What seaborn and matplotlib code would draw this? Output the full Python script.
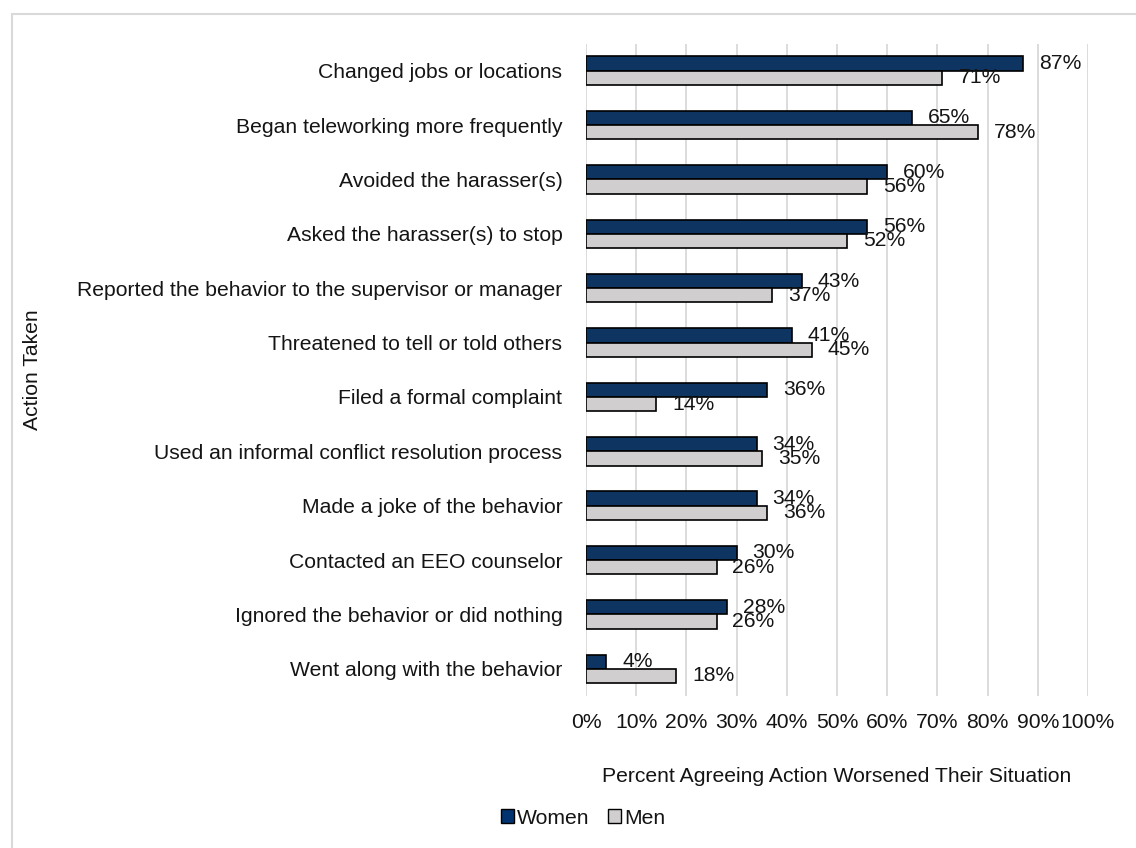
import matplotlib
matplotlib.use("Agg")
import matplotlib.pyplot as plt
from matplotlib.patches import Patch, Rectangle
import seaborn as sns
import pandas as pd

# Actions taken and share of respondents who said the action made things worse
actions = [
    "Changed jobs or locations",
    "Began teleworking more frequently",
    "Avoided the harasser(s)",
    "Asked the harasser(s) to stop",
    "Reported the behavior to the supervisor or manager",
    "Threatened to tell or told others",
    "Filed a formal complaint",
    "Used an informal conflict resolution process",
    "Made a joke of the behavior",
    "Contacted an EEO counselor",
    "Ignored the behavior or did nothing",
    "Went along with the behavior",
]
women = [87, 65, 60, 56, 43, 41, 36, 34, 34, 30, 28, 4]
men = [71, 78, 56, 52, 37, 45, 14, 35, 36, 26, 26, 18]
groups = ["Women", "Men"]
x_ticks = list(range(0, 101, 10))

NAVY = "#00336F"
GREY = "#D0CECE"
GRID = "#D9D9D9"
TEXT = "#141414"
FS = 15.2

df = pd.DataFrame({
    "action": actions * 2,
    "group": [groups[0]] * len(actions) + [groups[1]] * len(actions),
    "value": women + men,
})

sns.set_theme(style="white")
plt.rcParams["font.family"] = ["Liberation Sans", "DejaVu Sans"]

W, H = 1136, 848
fig = plt.figure(figsize=(W / 100, H / 100), dpi=100)
ax = fig.add_axes([586 / W, 1 - 696 / H, 502 / W, (696 - 43.5) / H])

sns.barplot(
    data=df, y="action", x="value", hue="group", orient="h",
    order=actions, hue_order=groups, palette=[NAVY, GREY],
    width=0.526, gap=0, edgecolor="black", linewidth=1.2,
    legend=False, ax=ax, zorder=2,
)

for cont, vals in zip(ax.containers, [women, men]):
    ax.bar_label(cont, labels=[f"{v}%" for v in vals], padding=11.5,
                 fontsize=FS, color=TEXT)

ax.set_xlim(0, 100)
ax.set_xticks(x_ticks)
ax.set_xticklabels([f"{t}%" for t in x_ticks], fontsize=FS, color=TEXT)
ax.tick_params(axis="x", length=0, pad=12)
ax.tick_params(axis="y", length=0, pad=17, labelsize=FS, labelcolor=TEXT)
ax.set_axisbelow(True)
ax.grid(axis="x", color=GRID, linewidth=1.3)
ax.grid(axis="y", visible=False)
for sp in ax.spines.values():
    sp.set_visible(False)

ax.set_xlabel("Percent Agreeing Action Worsened Their Situation",
              fontsize=FS, color=TEXT, va="center")
ax.xaxis.set_label_coords(0.5, -(776 - 696) / (696 - 43.5))
ax.set_ylabel("Action Taken", fontsize=FS, color=TEXT, va="center")
ax.yaxis.set_label_coords((33 - 586) / 502, 0.5)

handles = [Patch(facecolor=NAVY, edgecolor="black", linewidth=1.0),
           Patch(facecolor=GREY, edgecolor="black", linewidth=1.0)]
fig.legend(handles, groups, loc="center", ncol=2, frameon=False,
           bbox_to_anchor=(583 / W, 1 - 818 / H), fontsize=FS,
           handlelength=0.6, handleheight=0.6, handletextpad=0.15,
           columnspacing=0.9, labelcolor=TEXT)

# Light frame around the chart area
fig.add_artist(Rectangle((12 / W, -0.1), 1.2, 1 - 14 / H + 0.1,
                         transform=fig.transFigure, fill=False,
                         edgecolor=GRID, linewidth=1.5))

fig.savefig("out.png", dpi=100, facecolor="white")
